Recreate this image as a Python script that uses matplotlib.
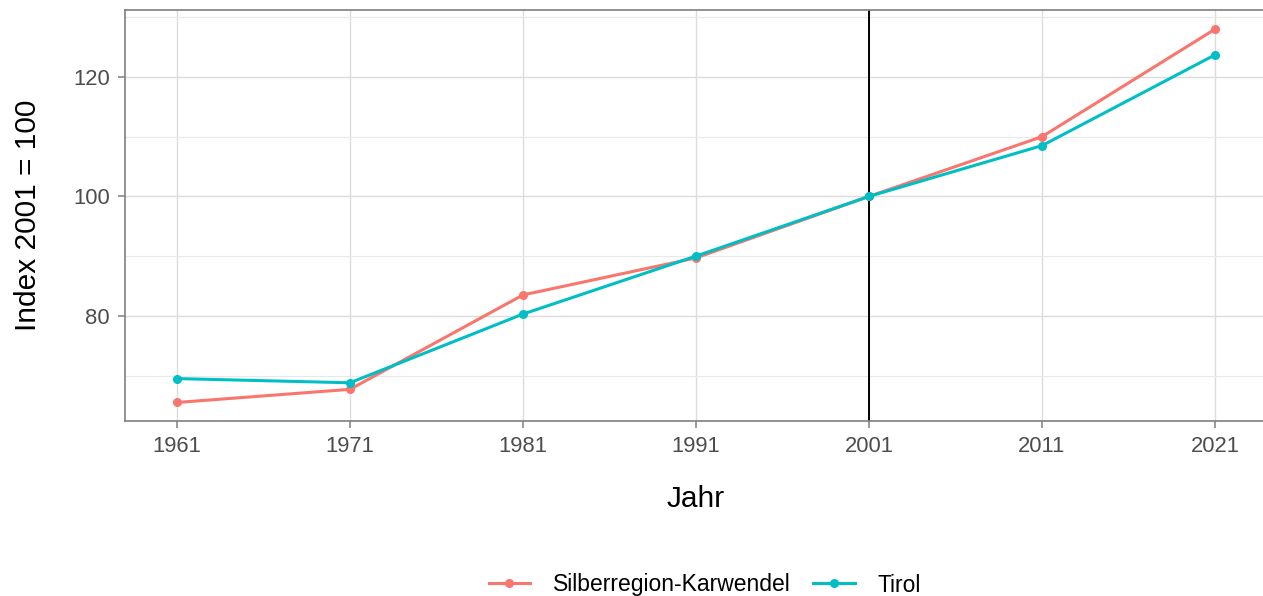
import matplotlib
matplotlib.use("Agg")
import matplotlib.pyplot as plt
from matplotlib.ticker import MultipleLocator

plt.rcParams['font.family'] = ['Liberation Sans', 'DejaVu Sans']

jahre = [1961, 1971, 1981, 1991, 2001, 2011, 2021]
silberregion = [65.5, 67.7, 83.5, 89.7, 100.0, 110.0, 128.0]
tirol = [69.5, 68.8, 80.3, 90.0, 100.0, 108.5, 123.7]
serien = ["Silberregion-Karwendel", "Tirol"]
farben = ["#F8766D", "#00BFC4"]

fig = plt.figure(figsize=(12.63, 5.96), dpi=100)
ax = fig.add_axes([125 / 1263, 175 / 596, 1142 / 1263, 411 / 596])

for werte, name, farbe in zip([silberregion, tirol], serien, farben):
    ax.plot(jahre, werte, color=farbe, lw=2.2, marker="o", ms=5.5,
            label=name, zorder=3)

ax.axvline(2001, color="black", lw=1.4, zorder=2)

ax.set_xlim(1958, 2024)
ax.set_ylim(62.4, 131.2)
ax.set_xticks(jahre)
ax.yaxis.set_major_locator(MultipleLocator(20))
ax.yaxis.set_minor_locator(MultipleLocator(10))
ax.grid(which="major", color="#DCDCDC", lw=1.0)
ax.grid(which="minor", axis="y", color="#E8E8E8", lw=0.8)
ax.set_axisbelow(True)

for s in ["left", "bottom", "top"]:
    ax.spines[s].set_color("#7F7F7F")
    ax.spines[s].set_linewidth(1.2)
ax.spines["right"].set_visible(False)

ax.tick_params(which="major", length=5, width=1.1, color="#7F7F7F",
               labelsize=15.8, labelcolor="#4D4D4D", pad=6)
ax.tick_params(which="minor", length=0)

ax.set_xlabel("Jahr", fontsize=21.5, labelpad=20)
ax.set_ylabel("Index 2001 = 100", fontsize=21.5, labelpad=22)

leg = fig.legend(loc="center", bbox_to_anchor=(0.558, 11 / 596),
                 ncol=2, frameon=False, fontsize=16.5, handlelength=1.8,
                 columnspacing=1.0, handletextpad=1.0)

fig.savefig("out.png", dpi=100)
